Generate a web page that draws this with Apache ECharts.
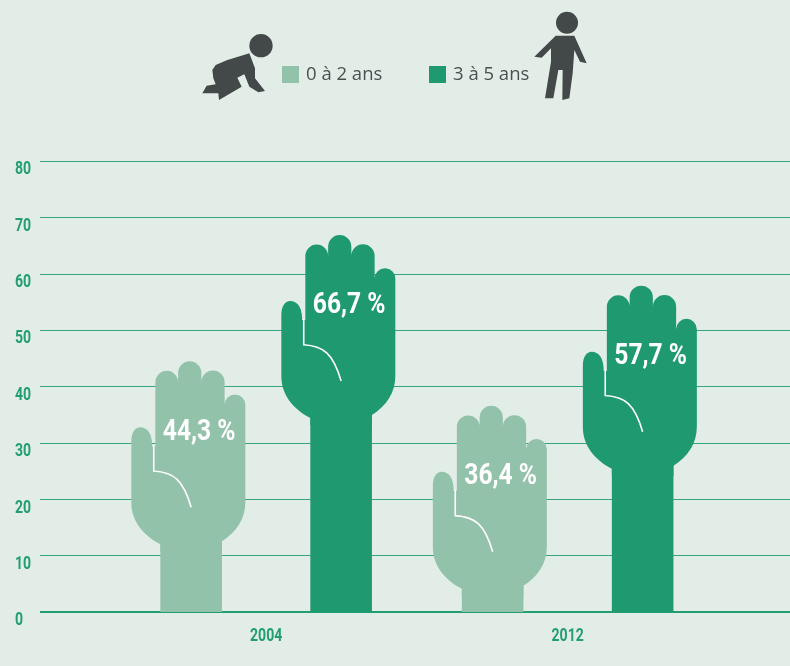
<!DOCTYPE html>
<html>
<head>
<meta charset="utf-8">
<title>Mains levees</title>
<style>
  html, body { margin: 0; padding: 0; background: #e3ede8; }
  #chart { width: 790px; height: 666px; }
</style>
<script src="https://cdn.jsdelivr.net/npm/echarts@6/dist/echarts.min.js"></script>
</head>
<body>
<div id="chart"></div>
<script>
var years = [2004, 2012];
var age0to2 = [44.3, 36.4];
var age3to5 = [66.7, 57.7];
var yTicks = [0, 10, 20, 30, 40, 50, 60, 70, 80];
var legendNames = ['0 à 2 ans', '3 à 5 ans'];

var light = '#93c2ab', dark = '#1f9970', green = '#239e73', grey = '#434848';
var font = 'Roboto, sans-serif';
var xMin = 1998, xMax = 2017.9;

// hand outline, origin = middle of the arm at the fingertip height
var handPath = 'M-59.8 141 L-59.8 80 C-59.8 71 -56 66 -51 66 C-44 66 -39 72 -39 84 L-39 85 L-35.8 85' +
  ' L-35.8 21 A11.4 11.4 0 0 1 -13 21 L-13 11.6 A11.6 11.6 0 0 1 10.2 11.6 L10.2 21' +
  ' A11.65 11.65 0 0 1 33.5 21 L33.5 43.5 A10.35 10.35 0 0 1 54.2 43.5 L54.2 141' +
  ' C54.2 158 45 171 30.8 180 L30.8 190 L-30.8 190 L-30.8 183 C-48 174 -59.8 160 -59.8 141 Z';
var slitPath = 'M-37.4 84 L-37.4 109.8 C-18 111 -8 118 0 146';

function handSeries(name, values, color, shift) {
  return {
    name: name,
    type: 'custom',
    clip: false,
    itemStyle: { color: color },
    encode: { x: 0, y: 1 },
    data: years.map(function (y, i) { return [y, values[i]]; }),
    renderItem: function (params, api) {
      var top = api.coord([api.value(0), api.value(1)]);
      var base = api.coord([api.value(0), 0]);
      var label = String(api.value(1)).replace('.', ',') + ' %';
      return {
        type: 'group',
        x: top[0] + shift,
        y: top[1] - 1,
        children: [
          { type: 'rect', shape: { x: -30.8, y: 170, width: 61.6, height: base[1] - top[1] - 170 + 1 }, style: { fill: color } },
          { type: 'path', shape: { pathData: handPath }, style: { fill: color } },
          { type: 'path', shape: { pathData: slitPath }, style: { fill: null, stroke: '#fff', lineWidth: 1.6 } },
          { type: 'text', x: 8, y: 71, scaleX: 0.82, style: {
              text: label, fill: '#fff', align: 'center', verticalAlign: 'middle',
              font: 'bold 30px ' + font
          } }
        ]
      };
    }
  };
}

// axis text is squeezed to look condensed, the axes' own labels can't do that
function tickText(x, y, align, text) {
  return { type: 'text', x: x, y: y, scaleX: 0.74, style: {
    text: text, fill: green, align: align, verticalAlign: 'middle', font: 'bold 19px ' + font
  } };
}

var myChart = echarts.init(document.getElementById('chart'));
myChart.setOption({
  backgroundColor: '#e3ede8',
  animation: false,
  legend: [0, 1].map(function (i) {
    return {
      left: i === 0 ? 282 : 429, top: 65, padding: 0,
      itemWidth: 17, itemHeight: 17,
      icon: 'rect',
      data: [legendNames[i]],
      textStyle: { color: '#4a4f4f', fontFamily: '"Open Sans"', fontSize: 18.5, padding: [3, 0, 0, 2] }
    };
  }),
  grid: { left: 40, right: 0, top: 161, bottom: 54 },
  xAxis: {
    type: 'value', min: xMin, max: xMax,
    axisLine: { show: false },
    axisTick: { show: false },
    splitLine: { show: false },
    axisLabel: { show: false }
  },
  yAxis: {
    type: 'value', min: 0, max: 80, interval: 10,
    axisLine: { show: false },
    axisTick: { show: false },
    splitLine: { lineStyle: { color: '#35a680', width: 1 } },
    axisLabel: { show: false }
  },
  graphic: [
    // zero line sits over the grid lines
    { type: 'rect', z: 1, shape: { x: 40, y: 611, width: 750, height: 2 }, style: { fill: green } },
    // crawling baby
    { type: 'group', x: 195, y: 25, scaleX: 1 / 3, scaleY: 1 / 3, children: [
      { type: 'circle', shape: { cx: 198, cy: 62, r: 35 }, style: { fill: grey } },
      { type: 'polygon', shape: { points: [[163, 85], [95, 106], [62, 120], [52, 135], [55, 160], [62, 178], [35, 182], [22, 205], [70, 205], [72, 225], [140, 185], [127, 158], [148, 148], [163, 185], [190, 202], [210, 198], [180, 160], [180, 130]] }, style: { fill: grey } }
    ] },
    // standing child
    { type: 'group', x: 525, y: 5, scaleX: 1 / 3, scaleY: 1 / 3, children: [
      { type: 'circle', shape: { cx: 126, cy: 53, r: 33 }, style: { fill: grey } },
      { type: 'polygon', shape: { points: [[92, 92], [148, 92], [185, 175], [165, 170], [148, 135], [143, 205], [133, 280], [112, 285], [113, 195], [100, 195], [85, 280], [60, 280], [78, 170], [78, 130], [50, 158], [28, 155]] }, style: { fill: grey } }
    ] }
  ],
  series: [
    handSeries(legendNames[0], age0to2, light, -75),
    handSeries(legendNames[1], age3to5, dark, 75),
    {
      name: 'yLabels', type: 'custom', clip: false, silent: true,
      encode: { x: 0, y: 1 },
      data: yTicks.map(function (v) { return [xMin, v]; }),
      renderItem: function (params, api) {
        var p = api.coord([api.value(0), api.value(1)]);
        return tickText(p[0] - 25, p[1] + 8.5, 'left', String(api.value(1)));
      }
    },
    {
      name: 'xLabels', type: 'custom', clip: false, silent: true,
      encode: { x: 0, y: 1 },
      data: years.map(function (y) { return [y, 0]; }),
      renderItem: function (params, api) {
        var p = api.coord([api.value(0), 0]);
        return tickText(p[0], p[1] + 24, 'center', String(api.value(0)));
      }
    }
  ]
});
</script>
</body>
</html>
